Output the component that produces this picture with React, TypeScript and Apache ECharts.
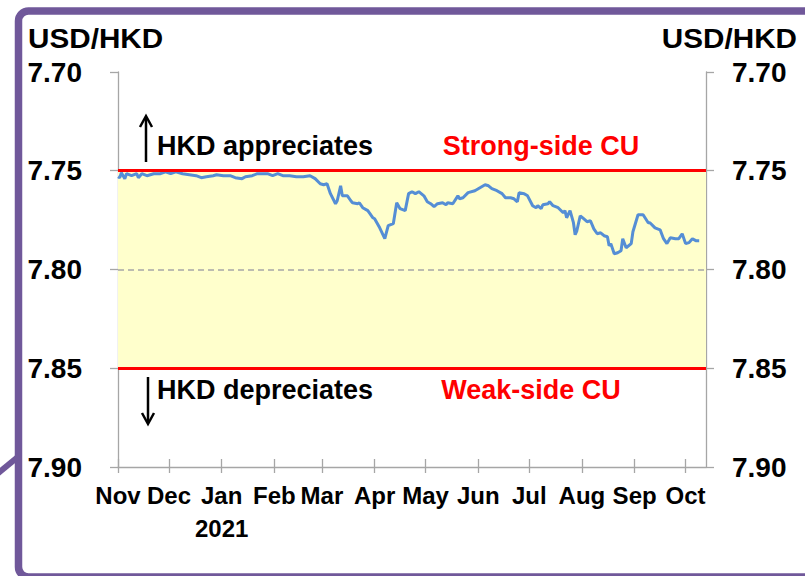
import React, { useEffect, useRef } from "react";
import * as echarts from "echarts";

// ---- Data ----
const axisStart = "2020-11-01";
const axisEnd = "2021-10-13";
const monthNames = ["Jan", "Feb", "Mar", "Apr", "May", "Jun", "Jul", "Aug", "Sep", "Oct", "Nov", "Dec"];
const yearLabel = "2021";

const dates = [
  "2020-11-01", "2020-11-02", "2020-11-03", "2020-11-05", "2020-11-06", "2020-11-09", "2020-11-12", "2020-11-13",
  "2020-11-15", "2020-11-18", "2020-11-22", "2020-11-26", "2020-11-29", "2020-12-02", "2020-12-05", "2020-12-07",
  "2020-12-09", "2020-12-13", "2020-12-17", "2020-12-20", "2020-12-23", "2020-12-27", "2020-12-29", "2021-01-02",
  "2021-01-06", "2021-01-09", "2021-01-13", "2021-01-15", "2021-01-19", "2021-01-22", "2021-01-25", "2021-01-28",
  "2021-01-31", "2021-02-03", "2021-02-06", "2021-02-10", "2021-02-14", "2021-02-18", "2021-02-22", "2021-02-25",
  "2021-02-28", "2021-03-02", "2021-03-04", "2021-03-06", "2021-03-09", "2021-03-10", "2021-03-12", "2021-03-13",
  "2021-03-16", "2021-03-18", "2021-03-19", "2021-03-22", "2021-03-23", "2021-03-25", "2021-03-28", "2021-03-31",
  "2021-04-01", "2021-04-04", "2021-04-07", "2021-04-09", "2021-04-12", "2021-04-14", "2021-04-16", "2021-04-19",
  "2021-04-21", "2021-04-23", "2021-04-25", "2021-04-27", "2021-04-30", "2021-05-02", "2021-05-04", "2021-05-06",
  "2021-05-08", "2021-05-11", "2021-05-13", "2021-05-14", "2021-05-17", "2021-05-20", "2021-05-21", "2021-05-23",
  "2021-05-26", "2021-05-30", "2021-06-02", "2021-06-05", "2021-06-07", "2021-06-09", "2021-06-12", "2021-06-15",
  "2021-06-17", "2021-06-20", "2021-06-22", "2021-06-24", "2021-06-25", "2021-06-28", "2021-06-30", "2021-07-03",
  "2021-07-05", "2021-07-06", "2021-07-08", "2021-07-09", "2021-07-12", "2021-07-13", "2021-07-15", "2021-07-18",
  "2021-07-21", "2021-07-22", "2021-07-23", "2021-07-25", "2021-07-27", "2021-07-28", "2021-07-29", "2021-07-31",
  "2021-08-02", "2021-08-04", "2021-08-06", "2021-08-08", "2021-08-10", "2021-08-12", "2021-08-14", "2021-08-16",
  "2021-08-17", "2021-08-18", "2021-08-20", "2021-08-22", "2021-08-24", "2021-08-25", "2021-08-27", "2021-08-30",
  "2021-08-31", "2021-09-03", "2021-09-06", "2021-09-09", "2021-09-10", "2021-09-13", "2021-09-16", "2021-09-18",
  "2021-09-20", "2021-09-22", "2021-09-25", "2021-09-27", "2021-09-29", "2021-10-01", "2021-10-03", "2021-10-05",
  "2021-10-07", "2021-10-09",
];

const rates = [
  7.7530, 7.7535, 7.7510, 7.7540, 7.7515, 7.7525, 7.7515, 7.7535,
  7.7515, 7.7525, 7.7515, 7.7515, 7.7505, 7.7515, 7.7505, 7.7510,
  7.7515, 7.7520, 7.7525, 7.7535, 7.7530, 7.7525, 7.7520, 7.7525,
  7.7525, 7.7535, 7.7540, 7.7530, 7.7525, 7.7515, 7.7515, 7.7515,
  7.7525, 7.7515, 7.7525, 7.7525, 7.7530, 7.7530, 7.7525, 7.7540,
  7.7566, 7.7571, 7.7566, 7.7616, 7.7667, 7.7652, 7.7576, 7.7627,
  7.7627, 7.7652, 7.7662, 7.7667, 7.7662, 7.7687, 7.7702, 7.7738,
  7.7743, 7.7789, 7.7844, 7.7778, 7.7768, 7.7662, 7.7692, 7.7702,
  7.7616, 7.7606, 7.7616, 7.7606, 7.7627, 7.7657, 7.7667, 7.7682,
  7.7667, 7.7662, 7.7672, 7.7662, 7.7667, 7.7627, 7.7642, 7.7637,
  7.7611, 7.7601, 7.7586, 7.7571, 7.7576, 7.7591, 7.7601, 7.7616,
  7.7637, 7.7637, 7.7642, 7.7657, 7.7611, 7.7616, 7.7627, 7.7677,
  7.7687, 7.7677, 7.7692, 7.7672, 7.7667, 7.7657, 7.7677, 7.7687,
  7.7713, 7.7702, 7.7738, 7.7702, 7.7763, 7.7824, 7.7804, 7.7728,
  7.7743, 7.7758, 7.7753, 7.7794, 7.7819, 7.7814, 7.7829, 7.7834,
  7.7880, 7.7869, 7.7920, 7.7915, 7.7905, 7.7844, 7.7890, 7.7869,
  7.7809, 7.7723, 7.7723, 7.7763, 7.7763, 7.7789, 7.7799, 7.7844,
  7.7869, 7.7839, 7.7844, 7.7844, 7.7819, 7.7869, 7.7864, 7.7844,
  7.7854, 7.7854,
];

const yMin = 7.70;
const yMax = 7.90;
const yStep = 0.05;
const strongSideCU = 7.75;
const weakSideCU = 7.85;
const convertibilityMid = 7.80;

const unitLabel = "USD/HKD";
const appreciateText = "HKD appreciates";
const depreciateText = "HKD depreciates";
const strongText = "Strong-side CU";
const weakText = "Weak-side CU";

function buildDays(start: string, end: string): string[] {
  const out: string[] = [];
  const d = new Date(start + "T00:00:00Z");
  const e = new Date(end + "T00:00:00Z");
  while (d.getTime() <= e.getTime()) {
    out.push(d.toISOString().slice(0, 10));
    d.setUTCDate(d.getUTCDate() + 1);
  }
  return out;
}

const FONT = "'Liberation Sans', Arial, Helvetica, sans-serif";
const PURPLE = "#70589a";
const AXIS_GREY = "#a6a6a6";

export default function App() {
  const ref = useRef<HTMLDivElement>(null);

  useEffect(() => {
    if (!ref.current) return;
    const chart = echarts.init(ref.current, undefined, { renderer: "svg" });
    const days = buildDays(axisStart, axisEnd);
    const isMonthStart = (_i: number, v: string) => v.slice(8, 10) === "01";
    const seriesData = dates.map((d, i) => [d, rates[i]]);

    const yAxisCommon = {
      type: "value" as const,
      inverse: true,
      min: yMin,
      max: yMax,
      interval: yStep,
      splitLine: { show: false },
      axisLine: { show: true, lineStyle: { color: AXIS_GREY, width: 1.3 } },
      axisTick: { show: true, length: 8, lineStyle: { color: AXIS_GREY, width: 1.3 } },
    };

    chart.setOption({
      animation: false,
      backgroundColor: "#ffffff",
      textStyle: { fontFamily: FONT },
      grid: { left: 118, right: 99, top: 72, bottom: 109, containLabel: false },
      xAxis: [
        {
          type: "category",
          data: days,
          boundaryGap: false,
          axisLine: { show: true, lineStyle: { color: AXIS_GREY, width: 1.3 } },
          axisTick: {
            show: true,
            interval: isMonthStart,
            length: 6,
            lineStyle: { color: AXIS_GREY, width: 1.3 },
          },
          axisLabel: {
            interval: isMonthStart,
            margin: 12,
            color: "#000",
            fontFamily: FONT,
            fontWeight: "bold",
            fontSize: 24,
            lineHeight: 33,
            formatter: (v: string) => {
              const m = monthNames[parseInt(v.slice(5, 7), 10) - 1];
              return v.slice(0, 7) === yearLabel + "-01" ? m + "\n" + yearLabel : m;
            },
          },
          splitLine: { show: false },
        },
        {
          type: "category",
          data: days,
          boundaryGap: false,
          position: "bottom",
          axisLine: { show: false },
          axisTick: {
            show: true,
            inside: true,
            interval: isMonthStart,
            length: 8,
            lineStyle: { color: AXIS_GREY, width: 1.3 },
          },
          axisLabel: { show: false },
          splitLine: { show: false },
        },
      ],
      yAxis: [
        {
          ...yAxisCommon,
          position: "left",
          axisLabel: {
            margin: 36,
            color: "#000",
            fontFamily: FONT,
            fontWeight: "bold",
            fontSize: 28,
            formatter: (v: number) => v.toFixed(2),
          },
        },
        {
          ...yAxisCommon,
          position: "right",
          axisLabel: {
            margin: 26,
            color: "#000",
            fontFamily: FONT,
            fontWeight: "bold",
            fontSize: 28,
            formatter: (v: number) => v.toFixed(2),
          },
        },
      ],
      series: [
        {
          name: "band",
          type: "line",
          data: [],
          xAxisIndex: 0,
          yAxisIndex: 0,
          z: 1,
          markArea: {
            silent: true,
            itemStyle: { color: "#ffffcc" },
            data: [[{ yAxis: strongSideCU }, { yAxis: weakSideCU }]],
          },
          markLine: {
            silent: true,
            symbol: ["none", "none"],
            label: { show: false },
            data: [
              { yAxis: convertibilityMid, lineStyle: { color: "#a6a6a6", type: [6, 4], width: 1.5 } },
              { yAxis: strongSideCU, lineStyle: { color: "#ff0000", type: "solid", width: 3 } },
              { yAxis: weakSideCU, lineStyle: { color: "#ff0000", type: "solid", width: 3 } },
            ],
          },
        },
        {
          name: unitLabel,
          type: "line",
          data: seriesData,
          xAxisIndex: 0,
          yAxisIndex: 0,
          z: 3,
          showSymbol: false,
          symbol: "none",
          lineStyle: { color: "#558ed5", width: 3 },
        },
      ],
      graphic: [
        {
          type: "rect",
          z: 10,
          shape: { x: 18.5, y: 11, width: 830, height: 566, r: 10 },
          style: { fill: "none", stroke: PURPLE, lineWidth: 7.5 },
        },
        {
          type: "line",
          z: 10,
          shape: { x1: -4, y1: 475, x2: 19, y2: 456 },
          style: { stroke: PURPLE, lineWidth: 6 },
        },
        {
          type: "text",
          x: 28,
          y: 38,
          scaleX: 1.06,
          style: { text: unitLabel, font: `bold 28px ${FONT}`, fill: "#000", align: "left", verticalAlign: "middle" },
        },
        {
          type: "text",
          x: 797,
          y: 38,
          scaleX: 1.06,
          style: { text: unitLabel, font: `bold 28px ${FONT}`, fill: "#000", align: "right", verticalAlign: "middle" },
        },
        {
          type: "text",
          x: 157,
          y: 146,
          style: { text: appreciateText, font: `bold 27px ${FONT}`, fill: "#000", align: "left", verticalAlign: "middle" },
        },
        {
          type: "text",
          x: 541,
          y: 146,
          style: { text: strongText, font: `bold 27px ${FONT}`, fill: "#ff0000", align: "center", verticalAlign: "middle" },
        },
        {
          type: "text",
          x: 157,
          y: 390,
          style: { text: depreciateText, font: `bold 27px ${FONT}`, fill: "#000", align: "left", verticalAlign: "middle" },
        },
        {
          type: "text",
          x: 531,
          y: 390,
          style: { text: weakText, font: `bold 27px ${FONT}`, fill: "#ff0000", align: "center", verticalAlign: "middle" },
        },
        // up arrow
        {
          type: "line",
          shape: { x1: 146, y1: 162, x2: 146, y2: 117 },
          style: { stroke: "#000", lineWidth: 2.5 },
        },
        {
          type: "polyline",
          shape: { points: [[140, 127], [146, 116], [152, 127]] },
          style: { stroke: "#000", lineWidth: 2.5, fill: "none", lineJoin: "miter" },
        },
        // down arrow
        {
          type: "line",
          shape: { x1: 148, y1: 377, x2: 148, y2: 423 },
          style: { stroke: "#000", lineWidth: 2.5 },
        },
        {
          type: "polyline",
          shape: { points: [[142, 413], [148, 424], [154, 413]] },
          style: { stroke: "#000", lineWidth: 2.5, fill: "none", lineJoin: "miter" },
        },
      ],
    });

    return () => chart.dispose();
  }, []);

  return (
    <div
      ref={ref}
      style={{ position: "fixed", left: 0, top: 0, width: 805, height: 576, background: "#fff" }}
    />
  );
}
